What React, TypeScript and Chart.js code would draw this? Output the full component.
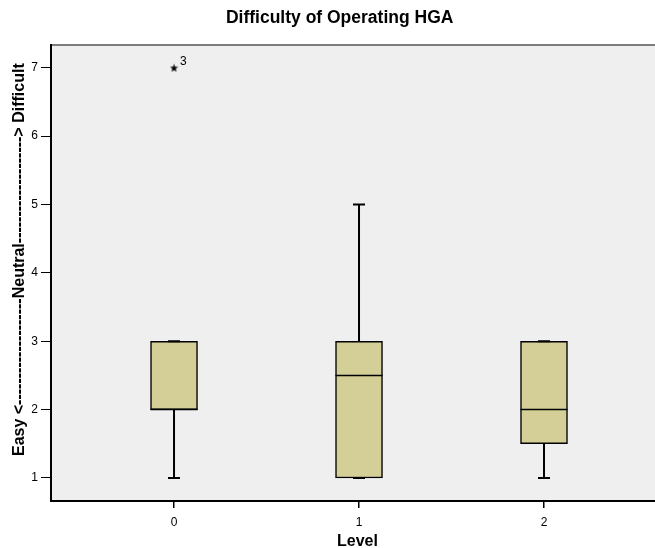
import React, { useEffect, useRef } from 'react';
import { Chart, registerables } from 'chart.js';

Chart.register(...registerables);

// ---- data ----
const categories = [0, 1, 2];
const q1 = [2, 1, 1.5];
const medians = [2, 2.5, 2];
const q3 = [3, 3, 3];
const whiskerLow = [1, 1, 1];
const whiskerHigh = [3, 5, 3];
const outlierX = [0];
const outlierY = [7];
const outlierLabels = ['3'];
const yTicks = [1, 2, 3, 4, 5, 6, 7];
const xTicks = [0, 1, 2];

const chartTitle = '     Difficulty of Operating HGA';
const xTitle = '  Level';
const yTitle = '      Easy <--------------------Neutral--------------------> Difficult';

const FONT = "'Liberation Sans', Arial, Helvetica, sans-serif";

function makeStar(): HTMLCanvasElement {
  const c = document.createElement('canvas');
  const size = 9;
  c.width = size;
  c.height = size;
  const ctx = c.getContext('2d')!;
  const cx = size / 2;
  const cy = size / 2 + 0.4;
  const outer = 4.3;
  const inner = 1.8;
  ctx.beginPath();
  for (let k = 0; k < 10; k++) {
    const r = k % 2 === 0 ? outer : inner;
    const ang = -Math.PI / 2 + (k * Math.PI) / 5;
    const x = cx + r * Math.cos(ang);
    const y = cy + r * Math.sin(ang);
    if (k === 0) ctx.moveTo(x, y);
    else ctx.lineTo(x, y);
  }
  ctx.closePath();
  ctx.fillStyle = '#000';
  ctx.fill();
  return c;
}

const boxPlugin = {
  id: 'boxExtras',
  beforeDraw(chart: any) {
    const { ctx, chartArea: a } = chart;
    ctx.save();
    ctx.fillStyle = '#efefef';
    ctx.fillRect(a.left, a.top, a.right - a.left, a.bottom - a.top);
    ctx.strokeStyle = '#7c7c7c';
    ctx.lineWidth = 2;
    ctx.beginPath();
    ctx.moveTo(a.left, a.top);
    ctx.lineTo(a.right, a.top);
    ctx.stroke();
    ctx.restore();
  },
  afterDatasetsDraw(chart: any) {
    const { ctx } = chart;
    const xs = chart.scales.x;
    const ys = chart.scales.y;
    const meta = chart.getDatasetMeta(0);
    ctx.save();
    ctx.strokeStyle = '#000';
    categories.forEach((c, i) => {
      const px = xs.getPixelForValue(c);
      const bar = meta.data[i];
      const half = bar ? bar.width / 2 : 23;
      const capHalf = 6;
      // median
      ctx.lineWidth = 1.5;
      ctx.beginPath();
      const my = ys.getPixelForValue(medians[i]);
      ctx.moveTo(px - half, my);
      ctx.lineTo(px + half, my);
      ctx.stroke();
      // whiskers
      ctx.lineWidth = 2;
      const yq3 = ys.getPixelForValue(q3[i]);
      const yq1 = ys.getPixelForValue(q1[i]);
      const yHi = ys.getPixelForValue(whiskerHigh[i]);
      const yLo = ys.getPixelForValue(whiskerLow[i]);
      ctx.beginPath();
      ctx.moveTo(px, yq3);
      ctx.lineTo(px, yHi);
      ctx.moveTo(px, yq1);
      ctx.lineTo(px, yLo);
      ctx.moveTo(px - capHalf, yHi);
      ctx.lineTo(px + capHalf, yHi);
      ctx.moveTo(px - capHalf, yLo);
      ctx.lineTo(px + capHalf, yLo);
      ctx.stroke();
    });
    // outlier labels
    ctx.fillStyle = '#000';
    ctx.font = `12px ${FONT}`;
    ctx.textAlign = 'left';
    ctx.textBaseline = 'middle';
    outlierX.forEach((ox, i) => {
      const px = xs.getPixelForValue(ox);
      const py = ys.getPixelForValue(outlierY[i]);
      ctx.fillText(outlierLabels[i], px + 6, py - 6);
    });
    ctx.restore();
  },
};

export default function App() {
  const ref = useRef<HTMLCanvasElement | null>(null);
  useEffect(() => {
    if (!ref.current) return;
    const star = makeStar();
    const chart = new Chart(ref.current, {
      type: 'bar',
      data: {
        datasets: [
          {
            type: 'bar',
            data: categories.map((c, i) => ({ x: c, y: [q1[i], q3[i]] })) as any,
            backgroundColor: '#d3cf97',
            borderColor: '#000',
            borderWidth: 1.5,
            borderSkipped: false,
            barThickness: 47,
          } as any,
          {
            type: 'scatter',
            data: outlierX.map((x, i) => ({ x, y: outlierY[i] })),
            pointStyle: star,
            radius: 4,
            borderColor: '#000',
            backgroundColor: '#000',
            borderWidth: 1,
          } as any,
        ],
      },
      options: {
        responsive: false,
        animation: false,
        layout: { padding: 0, autoPadding: false },
        plugins: {
          legend: { display: false },
          tooltip: { enabled: false },
          title: {
            display: true,
            text: chartTitle,
            color: '#000',
            font: { family: FONT, size: 17.5, weight: 'bold', lineHeight: 1.2 },
            padding: { top: 8, bottom: 16 },
          },
        },
        scales: {
          x: {
            type: 'linear',
            offset: false,
            min: -0.665,
            max: 2.6,
            afterBuildTicks: (s: any) => {
              s.ticks = xTicks.map((v) => ({ value: v }));
            },
            afterFit: (s: any) => {
              s.height = 47;
            },
            border: { display: true, color: '#000', width: 2 },
            grid: { offset: false, drawOnChartArea: false, drawTicks: true, tickLength: 7, color: '#000', lineWidth: 1.5 },
            ticks: {
              color: '#000',
              font: { family: FONT, size: 12 },
              padding: 7,
              callback: (v: any) => String(v),
            },
            title: {
              display: true,
              text: xTitle,
              color: '#000',
              font: { family: FONT, size: 16, weight: 'bold', lineHeight: 1 },
              padding: { top: 0, bottom: -1.5 },
            },
          },
          y: {
            type: 'linear',
            min: 0.663,
            max: 7.334,
            afterBuildTicks: (s: any) => {
              s.ticks = yTicks.map((v) => ({ value: v }));
            },
            afterFit: (s: any) => {
              s.width = 51;
            },
            border: { display: true, color: '#000', width: 2 },
            grid: { drawOnChartArea: false, drawTicks: true, tickLength: 10, color: '#000', lineWidth: 1 },
            ticks: {
              color: '#000',
              font: { family: FONT, size: 12 },
              padding: 3,
              callback: (v: any) => String(v),
            },
            title: {
              display: true,
              text: yTitle,
              color: '#000',
              font: { family: FONT, size: 16, weight: 'bold', lineHeight: 1 },
              padding: { top: 12, bottom: 0 },
            },
          },
        },
      } as any,
      plugins: [boxPlugin],
    });
    return () => chart.destroy();
  }, []);
  return (
    <div style={{ position: 'fixed', left: 0, top: 0, width: 655, height: 548, background: '#fff' }}>
      <canvas ref={ref} width={655} height={548} />
    </div>
  );
}
